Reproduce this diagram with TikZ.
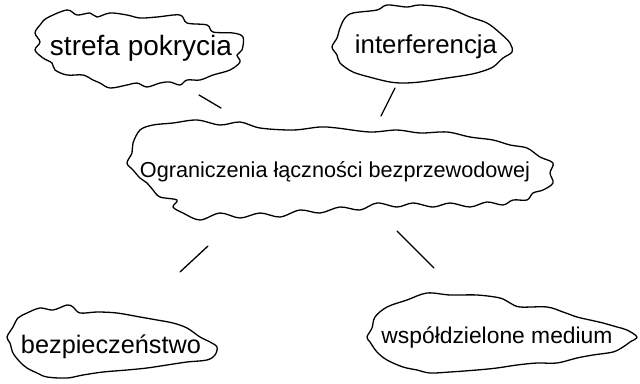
\documentclass[tikz,border=0pt]{standalone}
\usepackage{fontspec}
\usepackage{graphicx}
\setmainfont{Liberation Sans}
\tikzset{
  ink/.style={line width=1.3pt, line join=round, line cap=round, black},
  bubble/.style={ink, plot/.append style={}},
  label/.style={anchor=base, inner sep=0pt, text=black},
  link/.style={ink}
}
\begin{document}
\begin{tikzpicture}[x=1pt,y=-1pt]
\useasboundingbox[fill=white] (0,0) rectangle (640,383);

% cloud outlines
\draw[ink] plot[smooth cycle, tension=0.55] coordinates {
 (47,18) (67,10) (77,15) (90,13) (97,17) (110,13) (127,15) (140,18) (157,17) (180,15)
 (187,23) (207,25) (213,32) (233,33) (243,37) (242,50) (237,55) (240,62) (230,70)
 (213,75) (200,80) (187,80) (180,85) (170,82) (160,83) (147,87) (137,83) (127,85)
 (110,88) (100,83) (93,80) (83,75) (67,75) (55,70) (52,63) (43,58) (35,50) (40,42)
 (35,33) (40,25)};

\draw[ink] plot[smooth cycle, tension=0.55] coordinates {
 (345,18) (353,13) (377,10) (387,5) (407,7) (420,5) (447,8) (470,17) (487,23) (500,33)
 (510,43) (512,52) (503,58) (493,67) (480,72) (467,75) (447,78) (420,82) (403,83)
 (390,82) (373,78) (353,72) (340,63) (337,55) (332,47) (337,38) (340,28)};

\draw[ink] plot[smooth cycle, tension=0.55] coordinates {
 (140,130) (153,125) (173,123) (197,120) (220,125) (240,122) (260,128) (293,130)
 (320,127) (337,128) (370,132) (397,130) (420,133) (447,132) (470,137) (493,140)
 (510,145) (527,148) (540,157) (553,163) (550,173) (553,183) (543,190) (533,193)
 (527,200) (513,200) (503,205) (487,202) (470,207) (450,203) (433,207) (413,203)
 (397,207) (377,203) (360,210) (340,207) (320,213) (300,210) (280,217) (260,213)
 (240,218) (220,213) (200,220) (183,213) (173,207) (177,200) (160,197) (153,190)
 (147,183) (140,178) (133,170) (127,163) (132,153) (133,143)};

\draw[ink] plot[smooth cycle, tension=0.55] coordinates {
 (13,327) (18,318) (27,313) (40,308) (53,310) (67,305) (73,307) (80,313) (97,312)
 (117,313) (140,317) (157,320) (173,323) (187,328) (200,337) (210,342) (217,347)
 (215,355) (207,360) (187,362) (167,365) (147,368) (127,370) (103,372) (83,375)
 (67,378) (47,377) (37,373) (27,368) (20,362) (13,353) (10,343) (7,337)};

\draw[ink] plot[smooth cycle, tension=0.55] coordinates {
 (375,317) (387,307) (407,300) (427,293) (450,295) (477,295) (500,298) (510,303)
 (520,307) (547,307) (563,312) (577,317) (590,320) (603,323) (617,327) (627,330)
 (637,337) (630,342) (623,347) (613,352) (593,355) (577,358) (557,363) (537,363)
 (517,365) (497,368) (477,370) (450,372) (430,373) (417,370) (403,367) (387,360)
 (377,352) (370,342) (367,337) (372,328)};

% texts
\node[label] (strefa) at (141,55) {\resizebox{182pt}{!}{strefa pokrycia}};
\node[label] (interf) at (426,53) {\resizebox{142pt}{!}{interferencja}};
\node[label] (main) at (335,177) {\resizebox{390pt}{!}{Ograniczenia łączności bezprzewodowej}};
\node[label] (bezp) at (111,353) {\resizebox{180pt}{!}{bezpieczeństwo}};
\node[label] (wspol) at (497,343) {\resizebox{231pt}{!}{współdzielone medium}};

% connector ends
\coordinate (s1) at (199,95);  \coordinate (m1) at (221,108);
\coordinate (s2) at (395,88);  \coordinate (m2) at (381,116);
\coordinate (m3) at (208,246); \coordinate (s3) at (180,272);
\coordinate (m4) at (397,231); \coordinate (s4) at (434,268);

\draw[link] (s1) -- (m1);
\draw[link] (s2) -- (m2);
\draw[link] (m3) -- (s3);
\draw[link] (m4) -- (s4);
\end{tikzpicture}
\end{document}
